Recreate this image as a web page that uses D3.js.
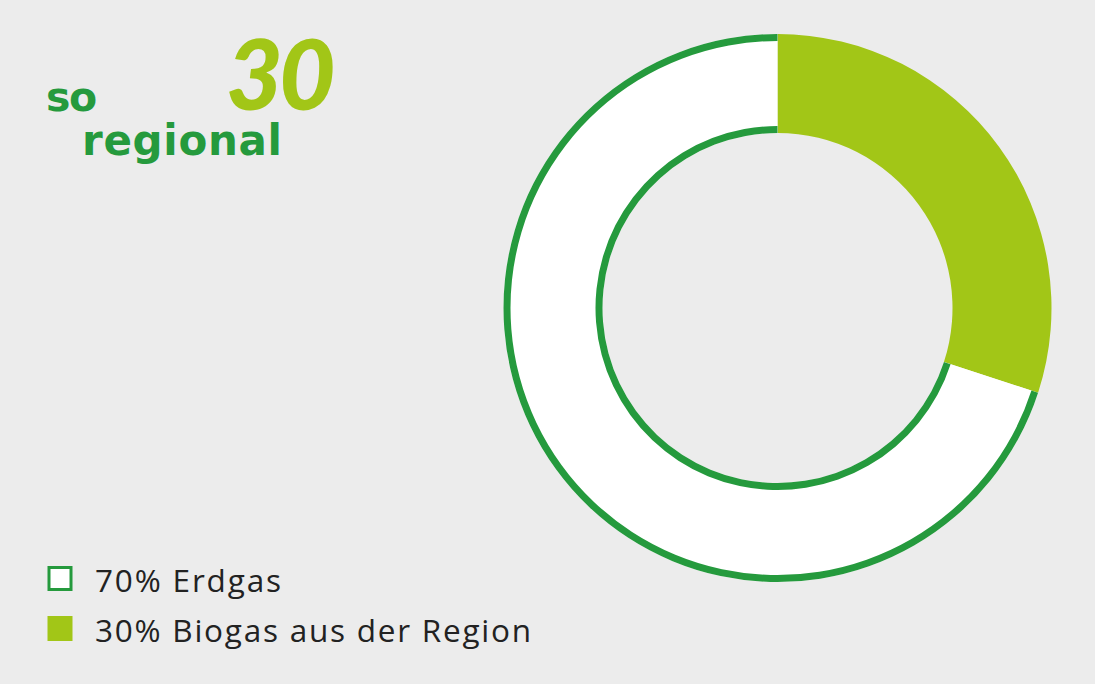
<!DOCTYPE html>
<html><head><meta charset="utf-8">
<script src="https://cdn.jsdelivr.net/npm/d3@7"></script>
<style>
html,body{margin:0;padding:0;background:#ececec;}
svg{display:block;}
</style></head>
<body>
<svg id="chart" width="1095" height="684"></svg>
<script>
const categories = ["Erdgas", "Biogas aus der Region"];
const values = [70, 30];
const legendLabels = ["70% Erdgas", "30% Biogas aus der Region"];

const W = 1095, H = 684;
const svg = d3.select("#chart");
svg.append("rect").attr("width", W).attr("height", H).attr("fill", "#ececec");

const darkGreen = "#259a3d", lime = "#a2c617";
const cx = 777.5, cy = 308, R = 274, r = 175, sw = 7;

// order: Biogas first (clockwise from top), then Erdgas
const data = categories.map((c, i) => ({cat: c, value: values[i]}));
const pie = d3.pie().sort(null).value(d => d.value);
const arcsData = pie([data[1], data[0]]);

const g = svg.append("g").attr("transform", `translate(${cx},${cy})`);
arcsData.forEach(a => {
  if (a.data.cat === "Erdgas") {
    g.append("path").attr("d", d3.arc().innerRadius(r).outerRadius(R)(a)).attr("fill", "#ffffff");
    g.append("path").attr("d", d3.arc().innerRadius(R - sw).outerRadius(R)(a)).attr("fill", darkGreen);
    g.append("path").attr("d", d3.arc().innerRadius(r).outerRadius(r + sw)(a)).attr("fill", darkGreen);
  } else {
    g.append("path").attr("d", d3.arc().innerRadius(r).outerRadius(R)(a)).attr("fill", lime);
  }
});

// logo
const logo = svg.append("g");
logo.append("text").attr("x", 226).attr("y", 110).text("30")
  .attr("font-family", "Lato, sans-serif").attr("font-weight", 900).attr("font-style", "italic")
  .attr("font-size", 98).attr("fill", lime).attr("letter-spacing", -4);
logo.append("text").attr("x", 46).attr("y", 111).text("so")
  .attr("font-family", "'DejaVu Sans', sans-serif").attr("font-weight", 700)
  .attr("font-size", 41).attr("fill", darkGreen).attr("letter-spacing", -1.5);
logo.append("text").attr("x", 82).attr("y", 155).text("regional")
  .attr("font-family", "'DejaVu Sans', sans-serif").attr("font-weight", 700)
  .attr("font-size", 42).attr("fill", darkGreen)
  .attr("textLength", 200).attr("lengthAdjust", "spacing");

// legend
const legend = svg.append("g");
const ly = [566, 616];
const fills = ["#ffffff", lime];
const strokes = [darkGreen, "none"];
const textLens = [186, 436];
legendLabels.forEach((lab, i) => {
  legend.append("rect").attr("x", i === 0 ? 49 : 47.5).attr("y", i === 0 ? ly[i] + 1.5 : ly[i])
    .attr("width", i === 0 ? 22 : 25).attr("height", i === 0 ? 22 : 25)
    .attr("fill", fills[i]).attr("stroke", strokes[i]).attr("stroke-width", 3);
  legend.append("text").attr("x", 95).attr("y", ly[i] + 26).text(lab)
    .attr("font-family", "'Open Sans', sans-serif").attr("font-size", 31.5)
    .attr("fill", "#222222")
    .attr("textLength", textLens[i]).attr("lengthAdjust", "spacing");
});
</script>
</body></html>
